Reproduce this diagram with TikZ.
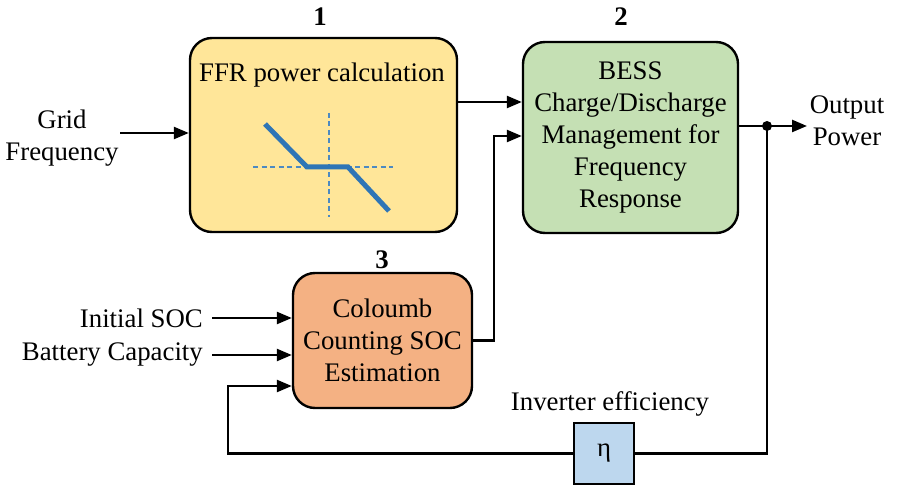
\documentclass[tikz,border=0pt]{standalone}
\usepackage{fontspec}
\setmainfont{Liberation Serif}
\newfontfamily\diagfont{Liberation Serif}
\usetikzlibrary{arrows.meta}
\definecolor{ffrfill}{HTML}{FFE699}
\definecolor{bessfill}{HTML}{C5E0B4}
\definecolor{socfill}{HTML}{F4B183}
\definecolor{etafill}{HTML}{BDD7EE}
\definecolor{curve}{HTML}{2E75B6}
\tikzset{
  blockbox/.style={draw=black, line width=2.4pt, rounded corners=22pt, inner sep=0pt},
  etabox/.style={draw=black, line width=2.4pt, inner sep=0pt, fill=etafill,
    minimum width=60pt, minimum height=61pt},
  txt/.style={align=center, inner sep=0pt, font=\diagfont\fontsize{26.8}{32}\selectfont},
  num/.style={inner sep=0pt, font=\diagfont\fontsize{26.8}{32}\selectfont\bfseries},
  wire/.style={line width=2.4pt},
  arr/.style={wire, -{Triangle[length=15pt,width=12pt]}},
  axis/.style={curve!85!white, line width=1.2pt, dash pattern=on 5pt off 3.5pt},
  droop/.style={curve, line width=5pt}
}
\begin{document}
\begin{tikzpicture}[x=1pt, y=-1pt]
\useasboundingbox (0,0) rectangle (901,486);

% blocks
\node[blockbox, fill=ffrfill, minimum width=267pt, minimum height=194pt] (ffr) at (323.5,135) {};
\node[txt] (ffrtitle) at (322,75) {FFR power calculation};
\node[blockbox, fill=bessfill, minimum width=215pt, minimum height=191pt, txt] (bess) at (630.5,137.5)
  {BESS\\Charge/Discharge\\Management for\\Frequency\\Response};
\node[blockbox, fill=socfill, minimum width=179pt, minimum height=135pt, txt] (soc) at (382.5,340.5)
  {Coloumb\\Counting SOC\\Estimation};
\node[etabox, txt] (eta) at (604,453.5) {η};

% block numbers
\node[num] (n1) at (320,17) {1};
\node[num] (n2) at (621,17) {2};
\node[num] (n3) at (382,260) {3};

% droop characteristic inside the FFR block
\draw[axis] (329,113) -- (329,217);
\draw[axis] (253,167) -- (393,167);
\draw[droop] (265,124) -- (307,167) -- (348,167) -- (389,211);

% external signals
\node[txt] (gridf) at (62,138) {Grid\\Frequency};
\coordinate (gfstart) at (120,133);
\draw[arr] (gfstart) -- (gfstart -| ffr.west);

\node[txt, anchor=east] (isoc) at (203,318) {Initial SOC};
\coordinate (isocstart) at (212,318);
\draw[arr] (isocstart) -- (isocstart -| soc.west);

\node[txt, anchor=east] (bcap) at (203,355) {Battery Capacity};
\coordinate (bcapstart) at (212,355);
\draw[arr] (bcapstart) -- (bcapstart -| soc.west);

% FFR power to BESS management
\draw[arr] ([yshift=33pt]ffr.east) -- ([yshift=33pt]ffr.east -| bess.west);

% SOC estimate to BESS management
\draw[arr] (soc.east) -- ++(21,0) |- ([yshift=1.5pt]bess.west);

% output power with branch point
\coordinate (dot) at (767,126);
\coordinate (outend) at (807,126);
\draw[arr] (dot -| bess.east) -- (outend);
\fill (dot) circle (5pt);
\node[txt] (outp) at (847,121) {Output\\Power};

% feedback through the inverter efficiency
\node[txt] (etalabel) at (610,404) {Inverter efficiency};
\coordinate (fbcorner) at (228,386);
\draw[wire] (dot) |- (eta.east);
\draw[arr] (eta.west) -| (fbcorner) -- (fbcorner -| soc.west);
\end{tikzpicture}
\end{document}
